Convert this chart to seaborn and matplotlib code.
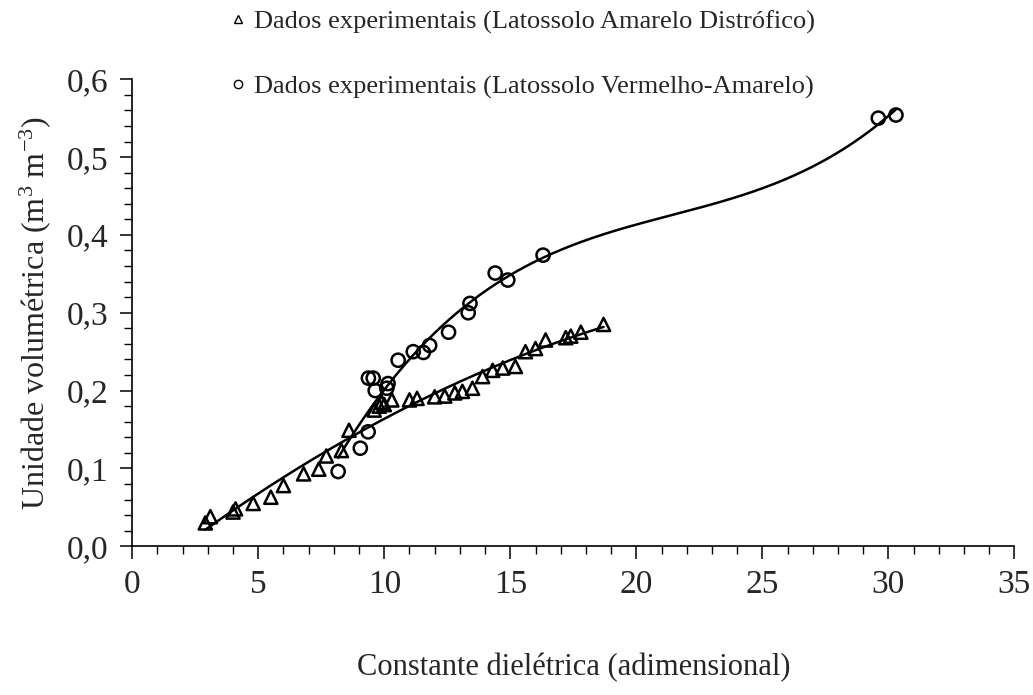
import numpy as np
import matplotlib
matplotlib.use("Agg")
import matplotlib.pyplot as plt
import seaborn as sns
from matplotlib.ticker import MultipleLocator, FuncFormatter
from matplotlib.lines import Line2D

# Latossolo Amarelo Distrofico (triangulos)
ka_amarelo = [2.9, 3.1, 4.0, 4.1, 4.8, 5.5, 6.0, 6.8, 7.4, 7.7, 8.3, 8.6,
              9.6, 9.8, 9.9, 10.0, 10.3, 11.0, 11.3, 12.0, 12.4, 12.8, 13.1,
              13.5, 13.9, 14.3, 14.7, 15.2, 15.6, 16.0, 16.4, 17.2, 17.4,
              17.8, 18.7]
theta_amarelo = [0.030, 0.038, 0.044, 0.048, 0.055, 0.063, 0.078, 0.093,
                 0.099, 0.116, 0.123, 0.149, 0.175, 0.180, 0.185, 0.182,
                 0.188, 0.188, 0.190, 0.192, 0.193, 0.197, 0.199, 0.203,
                 0.218, 0.226, 0.229, 0.231, 0.250, 0.254, 0.265, 0.268,
                 0.270, 0.275, 0.285]

# Latossolo Vermelho-Amarelo (circulos)
ka_vermelho = [8.17, 9.05, 9.36, 9.37, 9.56, 9.64, 10.1, 10.15, 10.55, 11.15,
               11.55, 11.8, 12.55, 13.33, 13.4, 14.4, 14.9, 16.3, 29.6, 30.3]
theta_vermelho = [0.096, 0.126, 0.147, 0.216, 0.216, 0.200, 0.203, 0.209,
                  0.239, 0.250, 0.249, 0.258, 0.275, 0.300, 0.312, 0.351,
                  0.342, 0.374, 0.550, 0.554]

label_amarelo = "Dados experimentais (Latossolo Amarelo Distrófico)"
label_vermelho = "Dados experimentais (Latossolo Vermelho-Amarelo)"

sns.set_style("white")
plt.rcParams['font.family'] = ['Liberation Serif', 'DejaVu Serif']
plt.rcParams['mathtext.fontset'] = 'custom'
plt.rcParams['mathtext.rm'] = 'Liberation Serif'
plt.rcParams['mathtext.it'] = 'Liberation Serif:italic'

fig = plt.figure(figsize=(10.33, 6.95), dpi=100)
ax = fig.add_axes([0.128, 0.214, 0.854, 0.672])

# curvas ajustadas (polinomios)
c_am = np.polyfit(ka_amarelo, theta_amarelo, 2)
xa = np.linspace(min(ka_amarelo), max(ka_amarelo), 200)
sns.lineplot(x=xa, y=np.polyval(c_am, xa), color="black", lw=1.8, ax=ax)

c_vm = np.polyfit(ka_vermelho, theta_vermelho, 3)
xv = np.linspace(min(ka_vermelho), max(ka_vermelho), 300)
sns.lineplot(x=xv, y=np.polyval(c_vm, xv), color="black", lw=1.8, ax=ax)

sns.scatterplot(x=ka_amarelo, y=theta_amarelo, marker="^", s=90,
                facecolor="none", edgecolor="black", linewidth=1.8, ax=ax, zorder=3)
sns.scatterplot(x=ka_vermelho, y=theta_vermelho, marker="o", s=90,
                facecolor="none", edgecolor="black", linewidth=1.8, ax=ax, zorder=3)

ax.set_xlim(0, 35)
ax.set_ylim(0, 0.6)
ax.xaxis.set_major_locator(MultipleLocator(5))
ax.xaxis.set_minor_locator(MultipleLocator(1))
ax.yaxis.set_major_locator(MultipleLocator(0.1))
ax.yaxis.set_minor_locator(MultipleLocator(0.02))
ax.yaxis.set_major_formatter(FuncFormatter(lambda v, p: f"{v:.1f}".replace('.', ',')))

for s in ["top", "right"]:
    ax.spines[s].set_visible(False)
for s in ["left", "bottom"]:
    ax.spines[s].set_color("black")
    ax.spines[s].set_linewidth(1.2)

ax.tick_params(which="major", direction="out", length=9, width=1.1,
               color="black", labelsize=24, bottom=True, left=True)
ax.tick_params(which="minor", direction="out", length=6, width=1.0,
               color="black", bottom=True, left=True)
ax.tick_params(axis="x", which="major", pad=8)
ax.tick_params(axis="y", which="major", pad=8)

ax.set_xlabel("Constante dielétrica (adimensional)", fontsize=22, labelpad=38)
ax.set_ylabel("Unidade volumétrica (m$^3$ m$^{-3}$)", fontsize=23, labelpad=10)

handles = [
    Line2D([], [], marker="^", ls="none", markerfacecolor="none",
           markeredgecolor="black", markersize=6, markeredgewidth=1.0),
    Line2D([], [], marker="o", ls="none", markerfacecolor="none",
           markeredgecolor="black", markersize=6, markeredgewidth=1.0),
]
leg = fig.legend(handles, [label_amarelo, label_vermelho], loc="upper left",
                 bbox_to_anchor=(0.2, 1.012), frameon=False, fontsize=19,
                 labelspacing=1.55, handletextpad=0.1, handlelength=1.0,
                 borderaxespad=0.3)

fig.savefig("out.png", dpi=100)
